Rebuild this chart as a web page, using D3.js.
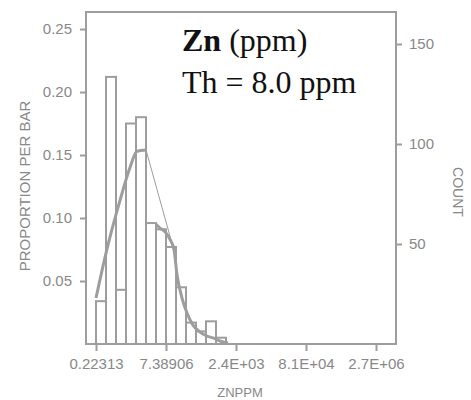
<!DOCTYPE html>
<html>
<head>
<meta charset="utf-8">
<script src="https://cdn.jsdelivr.net/npm/d3@7"></script>
<style>
  html, body { margin: 0; padding: 0; background: #fff; }
  svg { display: block; }
</style>
</head>
<body>
<div id="chart"></div>
<script>
// ===========================
// Zn (ppm) histogram, log-binned
// Left axis: proportion per bar, right axis: count
// ===========================

// ── Data (x in ln(ZNPPM)) ────────────────────────────────────────────────
const binStarts  = [-1.5, -1.0, -0.5, 0.0, 0.5, 1.0, 1.5, 2.0, 2.5, 3.0, 3.5, 4.0, 4.5];
const binWidth   = 0.5;
const proportion = [0.034, 0.212, 0.043, 0.175, 0.180, 0.096, 0.091, 0.077, 0.045, 0.017, 0.010, 0.018, 0.005];

// smoothed curve, rising part and tail
const curveUpX   = [-1.5, -1.0, -0.3, 0.2, 0.55, 1.0];
const curveUpY   = [0.0365, 0.0722, 0.114, 0.140, 0.153, 0.154];
const curveDownX = [1.5, 1.7, 1.95, 2.2, 2.4, 2.55, 2.8, 3.05, 3.35, 3.7, 4.05, 4.35, 4.7, 5.1];
const curveDownY = [0.095, 0.092, 0.089, 0.083, 0.075, 0.055, 0.0365, 0.0246, 0.015, 0.0095, 0.0063, 0.0048, 0.0024, 0.0008];
// thin connecting line
const thinX      = [1.0, 2.35];
const thinY      = [0.154, 0.077];

const xTickPos    = [-1.5, 2.0, 5.5, 9.0, 12.5];
const xTickLabels = ['0.22313', '7.38906', '2.4E+03', '8.1E+04', '2.7E+06'];
const yTicks      = [0.05, 0.10, 0.15, 0.20, 0.25];
const countTicks  = [50, 100, 150];

// ── Layout ─────────────────────────────────────────────────────────────────
const width = 471, height = 400;
const plot  = { left: 86, right: 396, top: 12, bottom: 344 };
const grey  = '#9d9d9d';
const textGrey = '#888888';
const sans  = '"Liberation Sans", Arial, sans-serif';

const x = d3.scaleLinear().domain([-2.0, 13.5]).range([plot.left, plot.right]);
const y = d3.scaleLinear().domain([0, 0.2635]).range([plot.bottom, plot.top]);
const yCount = d3.scaleLinear().domain([0, 166]).range([plot.bottom, plot.top]);

const svg = d3.select('#chart').append('svg')
    .attr('width', width).attr('height', height);

// ── Bars ───────────────────────────────────────────────────────────────────
svg.append('g')
    .selectAll('rect')
    .data(binStarts.map((b, i) => ({ x0: b, x1: b + binWidth, p: proportion[i] })))
    .join('rect')
    .attr('x', d => x(d.x0))
    .attr('y', d => y(d.p))
    .attr('width', d => x(d.x1) - x(d.x0))
    .attr('height', d => y(0) - y(d.p))
    .attr('fill', 'none')
    .attr('stroke', grey)
    .attr('stroke-width', 2);

// ── Curves ─────────────────────────────────────────────────────────────────
const line = d3.line().x(d => x(d[0])).y(d => y(d[1])).curve(d3.curveMonotoneX);

svg.append('path')
    .datum(d3.zip(curveUpX, curveUpY))
    .attr('d', line)
    .attr('fill', 'none').attr('stroke', grey).attr('stroke-width', 3);

svg.append('path')
    .datum(d3.zip(curveDownX, curveDownY))
    .attr('d', line)
    .attr('fill', 'none').attr('stroke', grey).attr('stroke-width', 3);

svg.append('path')
    .datum(d3.zip(thinX, thinY))
    .attr('d', d3.line().x(d => x(d[0])).y(d => y(d[1])))
    .attr('fill', 'none').attr('stroke', grey).attr('stroke-width', 1);

// ── Frame ──────────────────────────────────────────────────────────────────
svg.append('rect')
    .attr('x', plot.left).attr('y', plot.top)
    .attr('width', plot.right - plot.left).attr('height', plot.bottom - plot.top)
    .attr('fill', 'none').attr('stroke', grey).attr('stroke-width', 2);

// ── Axes ───────────────────────────────────────────────────────────────────
function styleAxis(g) {
    g.select('.domain').remove();
    g.selectAll('line').attr('stroke', grey).attr('stroke-width', 2);
    g.selectAll('text')
        .style('font-family', sans).style('font-size', '15px')
        .attr('fill', textGrey);
}

svg.append('g')
    .attr('transform', 'translate(0,' + plot.bottom + ')')
    .call(d3.axisBottom(x).tickValues(xTickPos).tickSize(7).tickPadding(7)
        .tickFormat((d, i) => xTickLabels[i]))
    .call(styleAxis);

svg.append('g')
    .attr('transform', 'translate(' + plot.left + ',0)')
    .call(d3.axisLeft(y).tickValues(yTicks).tickSize(6).tickPadding(8)
        .tickFormat(d3.format('.2f')))
    .call(styleAxis);

svg.append('g')
    .attr('transform', 'translate(' + plot.right + ',0)')
    .call(d3.axisRight(yCount).tickValues(countTicks).tickSize(6).tickPadding(7))
    .call(styleAxis);

// ── Axis titles ────────────────────────────────────────────────────────────
svg.append('text')
    .attr('transform', 'translate(30,186) rotate(-90)')
    .attr('text-anchor', 'middle')
    .style('font-family', sans).style('font-size', '15px').attr('fill', textGrey)
    .text('PROPORTION PER BAR');

svg.append('text')
    .attr('transform', 'translate(453,192) rotate(90)')
    .attr('text-anchor', 'middle')
    .style('font-family', sans).style('font-size', '14px').attr('fill', textGrey)
    .text('COUNT');

svg.append('text')
    .attr('x', 240).attr('y', 397)
    .attr('text-anchor', 'middle')
    .style('font-family', sans).style('font-size', '13px').attr('fill', textGrey)
    .text('ZNPPM');

// ── Title block ────────────────────────────────────────────────────────────
const serif = '"Liberation Serif", "Times New Roman", serif';
const t1 = svg.append('text')
    .attr('x', 182).attr('y', 51)
    .style('font-family', serif).style('font-size', '32px').attr('fill', '#111');
t1.append('tspan').style('font-weight', '700').text('Zn');
t1.append('tspan').text(' (ppm)');

svg.append('text')
    .attr('x', 182).attr('y', 93)
    .style('font-family', serif).style('font-size', '32px').attr('fill', '#111')
    .text('Th = 8.0 ppm');
</script>
</body>
</html>
